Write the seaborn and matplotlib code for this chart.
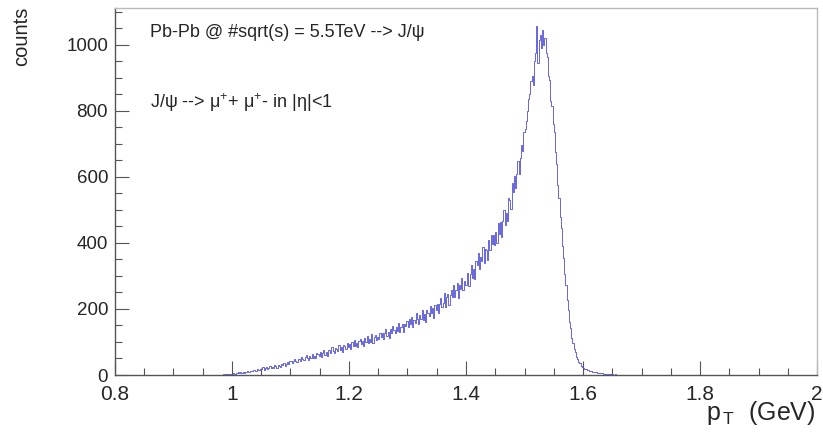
import numpy as np
import pandas as pd
import matplotlib
matplotlib.use('Agg')
import matplotlib.pyplot as plt
from matplotlib.ticker import MultipleLocator
import seaborn as sns

# 直方圖數據 (bin 寬 0.002, 從 0.97 開始)
x_lo = 0.97
bin_w = 0.002
counts = [
    # 0.970 - 1.000
    0, 0, 0, 1, 0, 1, 1, 2, 1, 2, 3, 2, 3, 4, 3,
    # 1.000 - 1.050
    4, 6, 3, 6, 5, 8, 5, 8, 7, 10, 7, 9, 10, 12, 9, 13, 11, 12, 14, 15, 12, 17, 14, 16, 19,
    # 1.050 - 1.100
    18, 23, 16, 21, 24, 17, 22, 27, 20, 25, 22, 29, 26, 21, 31, 27, 24, 33, 29, 35, 28, 32, 38, 34, 41,
    # 1.100 - 1.150
    43, 37, 43, 49, 42, 38, 49, 48, 42, 56, 48, 44, 54, 61, 50, 45, 59, 53, 63, 53, 59, 50, 66, 63, 59,
    # 1.150 - 1.200
    69, 56, 67, 76, 62, 69, 59, 77, 75, 67, 86, 73, 67, 82, 79, 72, 91, 77, 85, 71, 92, 87, 80, 96, 85,
    # 1.200 - 1.250
    93, 80, 99, 89, 105, 87, 96, 84, 103, 108, 94, 102, 87, 111, 101, 117, 97, 109, 101, 123, 98, 114, 120, 105, 115,
    # 1.250 - 1.300
    109, 127, 115, 127, 108, 126, 138, 117, 129, 113, 139, 127, 149, 135, 126, 144, 134, 158, 130, 146, 155, 130, 154, 147, 163,
    # 1.300 - 1.350
    145, 169, 154, 177, 146, 168, 159, 187, 171, 154, 182, 170, 198, 166, 186, 162, 197, 187, 179, 209, 187, 202, 174, 213, 197,
    # 1.350 - 1.400
    215, 188, 215, 234, 205, 217, 247, 205, 236, 246, 211, 242, 259, 235, 274, 235, 257, 278, 232, 273, 261, 294, 259, 284, 274,
    # 1.400 - 1.450
    273, 308, 269, 307, 333, 295, 320, 291, 344, 334, 369, 322, 358, 345, 389, 338, 383, 379, 348, 408, 379, 424, 396, 425, 393,
    # 1.450 - 1.500
    433, 399, 460, 428, 464, 418, 468, 500, 454, 492, 468, 535, 529, 503, 582, 553, 604, 566, 610, 647, 610, 656, 697, 680, 735,
    # 1.500 - 1.550
    745, 770, 800, 835, 850, 890, 905, 880, 950, 975, 1058, 945, 1015, 1030, 990, 1045, 1000, 1020, 975, 965, 905, 895, 830, 815, 760,
    # 1.550 - 1.600
    735, 676, 640, 575, 535, 480, 445, 392, 355, 305, 272, 228, 198, 162, 142, 112, 96, 79, 70, 55, 49, 40, 36, 28, 25,
    # 1.600 - 1.650
    21, 19, 17, 16, 14, 13, 11, 12, 10, 9, 8, 8, 7, 6, 6, 5, 5, 4, 4, 3, 4, 3, 2, 3, 2,
    # 1.650 - 1.690
    2, 1, 2, 1, 1, 1, 0, 1, 1, 0, 1, 0, 0, 1, 0, 0, 0, 1, 0, 0,
]

title1 = 'Pb-Pb @ #sqrt(s) = 5.5TeV --> J/ψ'
title2 = r'J/ψ --> μ$\mathregular{^{+}}$+ μ$\mathregular{^{+}}$- in |η|<1'

n_bins = len(counts)
x_hi = x_lo + bin_w * n_bins
df = pd.DataFrame({
    'pt': x_lo + bin_w * (np.arange(n_bins) + 0.5),
    'n': counts,
})

sns.set_style('white')
plt.rcParams['font.family'] = ['Liberation Sans', 'DejaVu Sans']

fig = plt.figure(figsize=(8.23, 4.37), dpi=100)
ax = fig.add_axes([115 / 823, 62 / 437, 702 / 823, 367 / 437])

sns.histplot(data=df, x='pt', weights='n', binwidth=bin_w, binrange=(x_lo, x_hi),
             element='step', fill=False, color='#4f4fd4', linewidth=0.6, ax=ax)

ax.set_xlim(0.8, 2.0)
ax.set_ylim(0, 1112)

ax.xaxis.set_major_locator(MultipleLocator(0.2))
ax.xaxis.set_minor_locator(MultipleLocator(0.05))
ax.yaxis.set_major_locator(MultipleLocator(200))
ax.yaxis.set_minor_locator(MultipleLocator(50))
ax.xaxis.set_major_formatter(plt.FuncFormatter(lambda v, p: f'{v:g}'))

ax.tick_params(which='both', direction='in', bottom=True, left=True, top=False, right=False,
               color='#555555', width=0.8)
ax.tick_params(which='major', length=10)
ax.tick_params(which='minor', length=5)
ax.tick_params(axis='x', pad=7, labelsize=15)
ax.tick_params(axis='y', pad=5, labelsize=13.5)

for side in ['left', 'bottom']:
    ax.spines[side].set_color('#555555')
    ax.spines[side].set_linewidth(1.0)
for side in ['top', 'right']:
    ax.spines[side].set_color('#bbbbbb')
    ax.spines[side].set_linewidth(1.0)

ax.set_xlabel(r'$\mathregular{p_{\,T}}$  (GeV)', fontsize=18, loc='right')
ax.xaxis.set_label_coords(0.998, -0.066)
ax.set_ylabel('counts', fontsize=14.5, loc='top')
ax.yaxis.set_label_coords(-0.12, 1.003)

ax.text(0.05, 0.932, title1, transform=ax.transAxes, fontsize=13, va='center', ha='left')
ax.text(0.05, 0.741, title2, transform=ax.transAxes, fontsize=13, va='center', ha='left')

plt.savefig('out.png', dpi=100)
